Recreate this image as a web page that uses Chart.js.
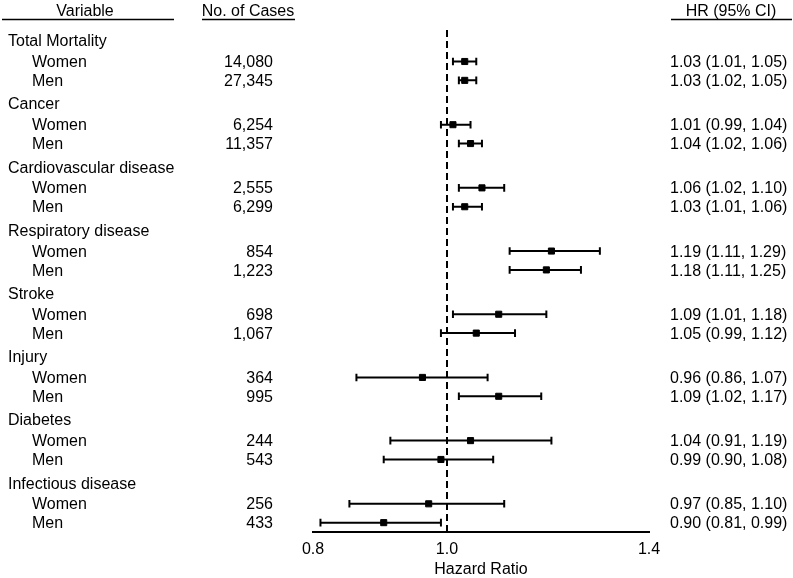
<!DOCTYPE html>
<html>
<head>
<meta charset="utf-8">
<script src="https://cdn.jsdelivr.net/npm/chart.js@4/dist/chart.umd.min.js"></script>
<style>
  html, body { margin: 0; padding: 0; background: #fff; }
  canvas { display: block; }
</style>
</head>
<body>
<canvas id="forest" width="793" height="578"></canvas>
<script>
// data
const groups = ['Total Mortality', 'Cancer', 'Cardiovascular disease', 'Respiratory disease',
    'Stroke', 'Injury', 'Diabetes', 'Infectious disease'];
const womenCases = [14080, 6254, 2555, 854, 698, 364, 244, 256];
const menCases = [27345, 11357, 6299, 1223, 1067, 995, 543, 433];
const womenHR = [1.03, 1.01, 1.06, 1.19, 1.09, 0.96, 1.04, 0.97];
const womenLo = [1.01, 0.99, 1.02, 1.11, 1.01, 0.86, 0.91, 0.85];
const womenHi = [1.05, 1.04, 1.10, 1.29, 1.18, 1.07, 1.19, 1.10];
const menHR = [1.03, 1.04, 1.03, 1.18, 1.05, 1.09, 0.99, 0.90];
const menLo = [1.02, 1.02, 1.01, 1.11, 0.99, 1.02, 0.90, 0.81];
const menHi = [1.05, 1.06, 1.06, 1.25, 1.12, 1.17, 1.08, 0.99];
const xTicks = [0.8, 1.0, 1.4];
const refValue = 1.0;

// row layout (in row units)
const groupStep = 3.25;
const womenOffset = 1.05, menOffset = 2.02;
const yMin = -0.57, yMax = 25.24;
const FONT = '"Liberation Sans", Arial, sans-serif';
const fontSize = 16;
const textShift = 1.2;

// build rows
const rows = [];
groups.forEach((g, i) => {
    rows.push({ label: g, y: i * groupStep, title: true });
    rows.push({ label: 'Women', y: i * groupStep + womenOffset, n: womenCases[i], hr: womenHR[i], lo: womenLo[i], hi: womenHi[i] });
    rows.push({ label: 'Men', y: i * groupStep + menOffset, n: menCases[i], hr: menHR[i], lo: menLo[i], hi: menHi[i] });
});
const dataRows = rows.filter(r => !r.title);

const ciData = [];
dataRows.forEach(r => {
    ciData.push({ x: r.lo, y: r.y }, { x: r.hi, y: r.y }, { x: r.hi, y: null });
});
const pointData = dataRows.map(r => ({ x: r.hr, y: r.y }));

const fmtHR = r => `${r.hr.toFixed(2)} (${r.lo.toFixed(2)}, ${r.hi.toFixed(2)})`;

// text columns
const tablePlugin = {
    id: 'table',
    afterDraw(chart) {
        const c = chart.ctx;
        const y = chart.scales.y;
        c.save();
        c.fillStyle = '#000';
        c.strokeStyle = '#000';
        c.font = `${fontSize}px ${FONT}`;
        c.textBaseline = 'middle';

        // headers
        const hy = 11.3;
        c.textAlign = 'center';
        c.fillText('Variable', 85, hy);
        c.fillText('No. of Cases', 248, hy);
        c.fillText('HR (95% CI)', 731, hy);
        c.lineWidth = 1.3;
        c.beginPath();
        c.moveTo(2, 19.5); c.lineTo(174, 19.5);
        c.moveTo(202, 19.5); c.lineTo(295, 19.5);
        c.moveTo(671, 19.5); c.lineTo(792, 19.5);
        c.stroke();

        rows.forEach(r => {
            const py = y.getPixelForValue(r.y) + (r.title ? 0.8 : textShift);
            c.textAlign = 'left';
            if (r.title) {
                c.fillText(r.label, 8, py);
                return;
            }
            c.fillText(r.label, 32, py);
            c.textAlign = 'right';
            c.fillText(r.n.toLocaleString('en-US'), 273, py);
            c.textAlign = 'left';
            c.fillText(fmtHR(r), 670, py);
        });
        c.restore();
    }
};

const config = {
    type: 'scatter',
    data: {
        datasets: [{
            data: [{ x: refValue, y: yMin }, { x: refValue, y: yMax }],
            showLine: true,
            borderColor: '#000',
            borderWidth: 2,
            borderDash: [7, 4],
            pointRadius: 0
        }, {
            data: ciData,
            showLine: true,
            spanGaps: false,
            borderColor: '#000',
            borderWidth: 2,
            pointStyle: 'line',
            rotation: 90,
            pointRadius: 3.8,
            pointBorderWidth: 2,
            pointBorderColor: '#000'
        }, {
            data: pointData,
            pointStyle: 'rect',
            pointRadius: 4.3,
            pointBorderWidth: 1,
            pointBackgroundColor: '#000',
            pointBorderColor: '#000'
        }]
    },
    options: {
        responsive: false,
        animation: false,
        events: [],
        layout: { padding: { left: 313, right: 144, top: 30, bottom: 0 } },
        plugins: { legend: { display: false }, tooltip: { enabled: false } },
        scales: {
            x: {
                type: 'logarithmic',
                min: 0.8,
                max: 1.4,
                afterBuildTicks(scale) {
                    scale.ticks = xTicks.map(v => ({ value: v }));
                },
                grid: { display: false, drawTicks: false },
                border: { display: true, color: '#000', width: 2 },
                ticks: {
                    color: '#000',
                    padding: 8,
                    autoSkip: false,
                    maxRotation: 0,
                    font: { family: FONT, size: fontSize },
                    callback: v => Number(v).toFixed(1)
                },
                title: {
                    display: true,
                    text: 'Hazard Ratio',
                    color: '#000',
                    padding: { top: -5, bottom: 0 },
                    font: { family: FONT, size: fontSize, lineHeight: 1 }
                }
            },
            y: {
                type: 'linear',
                display: false,
                reverse: true,
                min: yMin,
                max: yMax
            }
        }
    },
    plugins: [tablePlugin]
};

new Chart(document.getElementById('forest'), config);
</script>
</body>
</html>
